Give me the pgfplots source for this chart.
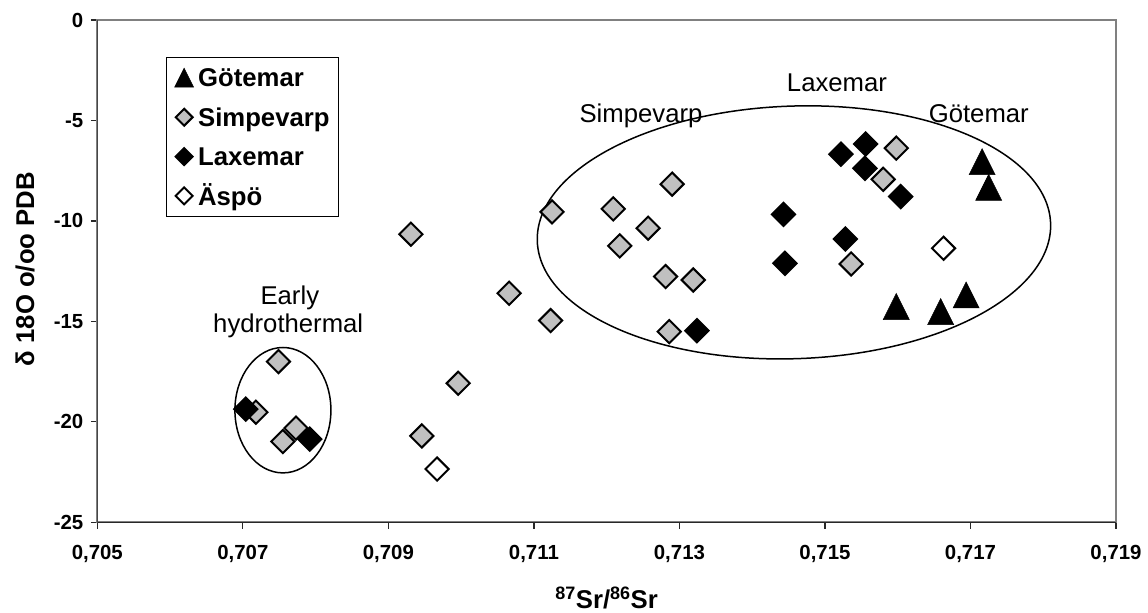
\documentclass[border=0pt]{standalone}
\usepackage{fontspec}
\setmainfont{Liberation Sans}
\usepackage{pgfplots}
\pgfplotsset{compat=1.18}
\usepackage{pgfplotstable}
\definecolor{silverg}{RGB}{192,192,192}
\definecolor{frameg}{RGB}{128,128,128}
\definecolor{axisd}{RGB}{40,40,40}

\pgfdeclareplotmark{xltri}{%
  \pgfpathmoveto{\pgfqpoint{0pt}{\pgfplotmarksize}}%
  \pgfpathlineto{\pgfqpoint{\pgfplotmarksize}{-\pgfplotmarksize}}%
  \pgfpathlineto{\pgfqpoint{-\pgfplotmarksize}{-\pgfplotmarksize}}%
  \pgfpathclose
  \pgfusepathqfillstroke
}

\pgfplotstableread{
x y
0.71716 -7.05
0.71725 -8.33
0.71694 -13.68
0.71598 -14.26
0.71659 -14.51
}\gotemar

\pgfplotstableread{
x y
0.70931 -10.66
0.71125 -9.55
0.71209 -9.40
0.71290 -8.17
0.71257 -10.36
0.71218 -11.24
0.71281 -12.77
0.71319 -12.94
0.71066 -13.60
0.71123 -14.96
0.71286 -15.51
0.70996 -18.08
0.70946 -20.70
0.71598 -6.38
0.71580 -7.93
0.71536 -12.14
0.70749 -17.00
0.70718 -19.52
0.70773 -20.31
0.70755 -20.98
}\simpevarp

\pgfplotstableread{
x y
0.70704 -19.37
0.70792 -20.86
0.71324 -15.46
0.71522 -6.68
0.71556 -6.17
0.71555 -7.38
0.71604 -8.79
0.71443 -9.67
0.71528 -10.90
0.71445 -12.11
}\laxemar

\pgfplotstableread{
x y
0.71663 -11.36
0.70967 -22.35
}\aspo

\newcommand{\bigfont}{\fontsize{25.7bp}{30bp}\selectfont}
\newcommand{\tickfont}{\fontsize{20.4bp}{24bp}\selectfont\bfseries}

\begin{document}
\begin{tikzpicture}
\begin{axis}[
  name=ax,
  scale only axis,
  width=1018.7bp, height=502.3bp,
  xmin=0.705, xmax=0.719, ymin=-25, ymax=0,
  xtick={0.705,0.707,0.709,0.711,0.713,0.715,0.717,0.719},
  xticklabels={{0,705},{0,707},{0,709},{0,711},{0,713},{0,715},{0,717},{0,719}},
  ytick={-25,-20,-15,-10,-5,0},
  yticklabels={-25,-20,-15,-10,-5,0},
  scaled x ticks=false,
  xticklabel style={font=\tickfont, anchor=north, yshift=-13bp},
  yticklabel style={font=\tickfont, anchor=east, xshift=-4bp},
  tick align=outside,
  xtick pos=left, ytick pos=left,
  major tick length=6.5bp,
  tick style={axisd, line width=1.3bp},
  axis line style={frameg, line width=2bp},
  xlabel={\textsuperscript{87}Sr/\textsuperscript{86}Sr},
  ylabel={δ 18O o/oo PDB},
  every axis x label/.style={at={(axis description cs:0.5,-0.1706)}, anchor=base, font=\bigfont\bfseries},
  every axis y label/.style={at={(axis description cs:-0.071,0.504)}, anchor=center, rotate=90, font=\bigfont\bfseries},
  legend style={at={(axis description cs:0.0671,0.927)}, anchor=north west,
    draw=black, line width=1bp, fill=white,
    font=\bigfont\bfseries,
    inner xsep=8.5bp, inner ysep=11bp, row sep=20.9bp, column sep=4.5bp,
    nodes={inner sep=0pt, text height=18.4bp, text depth=0bp}},
  legend cell align=left,
  legend image code/.code={\draw[#1, every mark/.append style={scale=0.73}] plot coordinates {(0bp,0bp)};},
]
\addplot[only marks, mark=xltri, mark size=13bp, draw=black, fill=black, line width=0.5bp] table {\gotemar};
\addlegendentry{Götemar}
\addplot[only marks, mark=square*, mark size=8.2bp, mark options={rotate=45, fill=silverg, draw=black, line width=2bp}] table {\simpevarp};
\addlegendentry{Simpevarp}
\addplot[only marks, mark=square*, mark size=8.2bp, mark options={rotate=45, fill=black, draw=black, line width=2bp}] table {\laxemar};
\addlegendentry{Laxemar}
\addplot[only marks, mark=square*, mark size=8.2bp, mark options={rotate=45, fill=white, draw=black, line width=2bp}] table {\aspo};
\addlegendentry{Äspö}

\draw[black, line width=1.5bp, rotate around={2:(axis cs:0.714574,-10.57)}] (axis cs:0.714574,-10.57) ellipse [x radius=256.8bp, y radius=126.3bp];
\draw[black, line width=1.5bp] (axis cs:0.707551,-19.42) ellipse [x radius=48bp, y radius=62.7bp];

\node[anchor=base, font=\bigfont] at (axis cs:0.712472,-5.09) {Simpevarp};
\node[anchor=base, font=\bigfont] at (axis cs:0.715165,-3.57) {Laxemar};
\node[anchor=base, font=\bigfont] at (axis cs:0.717114,-5.09) {Götemar};
\node[anchor=base, font=\bigfont] at (axis cs:0.707646,-14.18) {Early};
\node[anchor=base, font=\bigfont] at (axis cs:0.707624,-15.56) {hydrothermal};

\draw[axisd, line width=1.5bp] (rel axis cs:0,1) -- (rel axis cs:0,0) -- (rel axis cs:1,0);
\end{axis}
\pgfresetboundingbox
\path ([shift={(-97.3bp,-89.7bp)}]ax.south west) rectangle ([shift={(32bp,20bp)}]ax.north east);
\end{tikzpicture}
\end{document}
